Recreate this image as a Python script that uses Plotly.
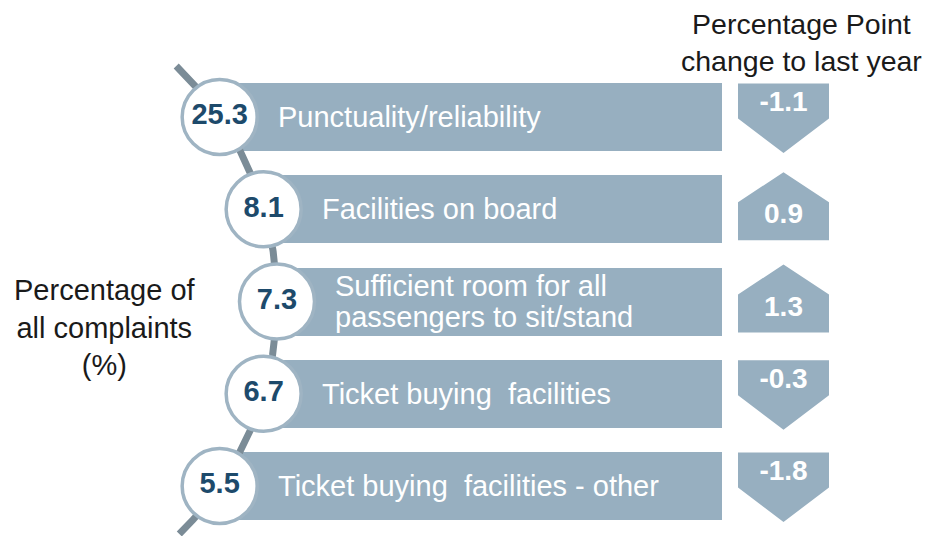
import numpy as np
import plotly.graph_objects as go

# ---- data ----
categories = [
    "Punctuality/reliability",
    "Facilities on board",
    "Sufficient room for all<br>passengers to sit/stand",
    "Ticket buying  facilities",
    "Ticket buying  facilities - other",
]
share_pct = [25.3, 8.1, 7.3, 6.7, 5.5]
change_pp = [-1.1, 0.9, 1.3, -0.3, -1.8]
left_title = "Percentage of<br>all complaints<br>(%)"
right_title = "Percentage Point<br>change to last year"

# ---- styling / layout helpers ----
OFF = 8                # page body margin in the browser
W, H = 940 - OFF, 536 - OFF
PITCH = 92.25          # px between rows
TOP_C = 117            # px centre of first row
BAR_END = 722
BAR_COL = "#97afc0"
RING_COL = "#9fb4c3"
LINE_COL = "#7b8c97"
NUM_COL = "#1d4a6b"
FONT = "Liberation Sans, Arial, sans-serif"
ARC_CX, ARC_R = -48.5, 325.5  # px, arc centred on middle row

n = len(categories)
idx = np.arange(n)
ypx = lambda p: (p - TOP_C) / PITCH   # px -> row units
d = lambda p: p / PITCH               # px offset -> row units

def arc_x(row):
    dy = (row - 2) * PITCH
    return ARC_CX + np.sqrt(ARC_R**2 - dy**2)

cx = arc_x(idx)

fig = go.Figure()

# bars
fig.add_trace(go.Bar(
    orientation="h", y=idx, base=cx, x=BAR_END - cx, width=d(68),
    marker=dict(color=BAR_COL, line=dict(width=0)), hoverinfo="skip"))

# connecting arc
rows_arc = np.linspace(ypx(66), ypx(534), 200)
fig.add_trace(go.Scatter(x=arc_x(rows_arc), y=rows_arc, mode="lines",
                         line=dict(color=LINE_COL, width=7), hoverinfo="skip"))

# circles with values
fig.add_trace(go.Scatter(
    x=cx, y=idx, mode="markers+text",
    marker=dict(size=75, color="white", line=dict(color=RING_COL, width=3.5)),
    text=[f"{v:.1f}" for v in share_pct], textposition="middle center",
    textfont=dict(family=FONT, size=29, color=NUM_COL, weight="bold"),
    hoverinfo="skip"))

# category labels
for i, lab in enumerate(categories):
    lines = lab.split("<br>")
    k = len(lines)
    for j, ln in enumerate(lines):
        off = (j - (k - 1) / 2) * 31
        fig.add_annotation(x=cx[i] + 56, y=i + d(off), text=ln, showarrow=False,
                           xanchor="left", yanchor="middle",
                           font=dict(family=FONT, size=29, color="white"))

# change arrows
xs, ys = [], []
txt_y = []
L, R, M = 738, 829, 783.5
for i, v in enumerate(change_pp):
    if v < 0:
        pts = [(L, -33.5), (R, -33.5), (R, 1.5), (M, 36), (L, 1.5), (L, -33.5)]
        txt_y.append(i + d(-13))
    else:
        pts = [(M, -37), (R, -7), (R, 31), (L, 31), (L, -7), (M, -37)]
        txt_y.append(i + d(7))
    for px_, off in pts:
        xs.append(px_)
        ys.append(i + d(off))
    xs.append(None)
    ys.append(None)
fig.add_trace(go.Scatter(x=xs, y=ys, mode="lines", fill="toself",
                         fillcolor=BAR_COL, line=dict(width=0, color=BAR_COL),
                         hoverinfo="skip"))
fig.add_trace(go.Scatter(
    x=[M] * n, y=txt_y, mode="text", text=[f"{v:.1f}" for v in change_pp],
    textfont=dict(family=FONT, size=28, color="white", weight="bold"),
    hoverinfo="skip"))

# titles
fig.add_annotation(x=801, y=ypx(42), text=right_title, showarrow=False,
                   xanchor="center", yanchor="middle",
                   font=dict(family=FONT, size=28.5, color="#1a1a1a"))
fig.add_annotation(x=105, y=ypx(327), text=left_title, showarrow=False,
                   xanchor="center", yanchor="middle",
                   font=dict(family=FONT, size=29, color="#1a1a1a"))

fig.update_layout(
    width=W, height=H, margin=dict(l=0, r=0, t=0, b=0),
    paper_bgcolor="white", plot_bgcolor="white", showlegend=False,
    xaxis=dict(range=[OFF, 940], visible=False, fixedrange=True),
    yaxis=dict(range=[ypx(536), ypx(OFF)], visible=False, fixedrange=True),
    bargap=0,
)
fig.write_html("out.html")
